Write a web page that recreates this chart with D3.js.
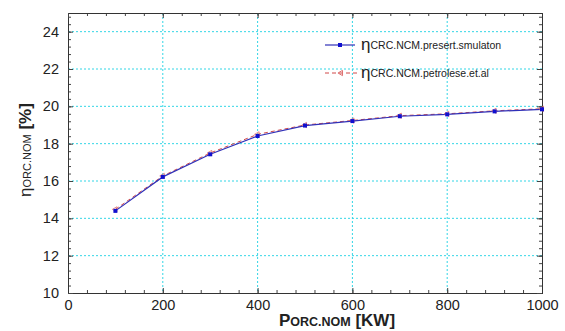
<!DOCTYPE html>
<html><head><meta charset="utf-8">
<script src="https://cdn.jsdelivr.net/npm/d3@7/dist/d3.min.js"></script>
<style>body{margin:0;background:#fff}svg{display:block}text{font-family:"Liberation Sans",Arial,sans-serif}</style>
</head><body><svg id="c" width="565" height="331"></svg>
<script>
const xVals = [100,200,300,400,500,600,700,800,900,1000];
const simValues = [14.4,16.22,17.43,18.41,18.97,19.21,19.47,19.57,19.73,19.84];
const petroleseValues = [14.48,16.27,17.5,18.5,19.0,19.24,19.5,19.6,19.76,19.87];
const xTicks = [0,200,400,600,800,1000];
const yTicks = [10,12,14,16,18,20,22,24];
const seriesNames = ["CRC.NCM.presert.smulaton","CRC.NCM.petrolese.et.al"];

const svg = d3.select("#c");
const L=68, R=542, T=13, B=293;
const x = d3.scaleLinear().domain([0,1000]).range([L,R]);
const y = d3.scaleLinear().domain([10,25]).range([B,T]);

// grid
const grid = svg.append("g").attr("stroke","#33d6e6").attr("stroke-width",1).attr("stroke-dasharray","2,2");
xTicks.filter(d=>d>0&&d<1000).forEach(d=>grid.append("line").attr("x1",x(d)).attr("x2",x(d)).attr("y1",T).attr("y2",B));
yTicks.filter(d=>d>10).forEach(d=>grid.append("line").attr("x1",L).attr("x2",R).attr("y1",y(d)).attr("y2",y(d)));

// axes frame
const minorX = d3.range(0,1001,40), minorY = d3.range(10,25.01,0.4);
function axis(gen, tr){ return svg.append("g").attr("transform",tr).call(gen); }
const ax = [];
ax.push(axis(d3.axisBottom(x).tickValues(minorX).tickSize(-3).tickFormat(""), `translate(0,${B})`));
ax.push(axis(d3.axisTop(x).tickValues(minorX).tickSize(-3).tickFormat(""), `translate(0,${T})`));
ax.push(axis(d3.axisLeft(y).tickValues(minorY).tickSize(-3).tickFormat(""), `translate(${L},0)`));
ax.push(axis(d3.axisRight(y).tickValues(minorY).tickSize(-3).tickFormat(""), `translate(${R},0)`));
ax.push(axis(d3.axisBottom(x).tickValues(xTicks).tickSize(-5).tickPadding(7).tickFormat(d3.format("d")), `translate(0,${B})`));
ax.push(axis(d3.axisLeft(y).tickValues(yTicks).tickSize(-5).tickPadding(9).tickFormat(d3.format("d")), `translate(${L},0)`));
ax.push(axis(d3.axisTop(x).tickValues(xTicks).tickSize(-5).tickFormat(""), `translate(0,${T})`));
ax.push(axis(d3.axisRight(y).tickValues(yTicks).tickSize(-5).tickFormat(""), `translate(${R},0)`));
ax.forEach(g=>{ g.select(".domain").attr("stroke","#333"); g.selectAll(".tick line").attr("stroke","#444");
  g.selectAll("text").attr("font-size",14.5).attr("fill","#222").attr("font-family","Liberation Sans, Arial, sans-serif"); });

// lines
const line = d3.line().x(d=>x(d[0])).y(d=>y(d[1]));
const petro = xVals.map((v,i)=>[v,petroleseValues[i]]);
const sim = xVals.map((v,i)=>[v,simValues[i]]);
svg.append("path").attr("d",line(petro)).attr("fill","none").attr("stroke","#d04848").attr("stroke-width",1).attr("stroke-dasharray","4,3");
svg.append("path").attr("d",line(sim)).attr("fill","none").attr("stroke","#3030b8").attr("stroke-width",1.2);
svg.selectAll(".pm").data(petro).join("path").attr("d",d3.symbol(d3.symbolTriangle,12)())
  .attr("transform",d=>`translate(${x(d[0])},${y(d[1])}) rotate(-90)`).attr("fill","none").attr("stroke","#e07070").attr("stroke-width",0.8);
svg.selectAll(".sm").data(sim).join("rect").attr("x",d=>x(d[0])-2).attr("y",d=>y(d[1])-2).attr("width",4).attr("height",4).attr("fill","#1010d0");

// legend
const lg = svg.append("g");
lg.append("line").attr("x1",325).attr("x2",355).attr("y1",45).attr("y2",45).attr("stroke","#3030b8").attr("stroke-width",1.2);
lg.append("rect").attr("x",338).attr("y",43).attr("width",4).attr("height",4).attr("fill","#1010d0");
lg.append("line").attr("x1",325).attr("x2",357).attr("y1",73).attr("y2",73).attr("stroke","#d04848").attr("stroke-dasharray","4,3");
lg.append("path").attr("d",d3.symbol(d3.symbolTriangle,12)()).attr("transform","translate(341,73) rotate(-90)").attr("fill","none").attr("stroke","#e07070");
[[45,seriesNames[0]],[73,seriesNames[1]]].forEach(([yy,t])=>{
  const tx = lg.append("text").attr("x",361).attr("y",yy+5).attr("fill","#222");
  tx.append("tspan").attr("font-size",17).text("η");
  tx.append("tspan").attr("font-size",10.5).attr("dy",-1).text(t);
});

// axis titles
const xt = svg.append("text").attr("x",337).attr("y",326).attr("text-anchor","middle").attr("fill","#222").attr("font-weight","bold");
xt.append("tspan").attr("font-size",17).text("P");
xt.append("tspan").attr("font-size",12.5).text("ORC.NOM");
xt.append("tspan").attr("font-size",17).text(" [KW]");
const yt = svg.append("text").attr("transform","translate(31,150) rotate(-90)").attr("text-anchor","middle").attr("fill","#222");
yt.append("tspan").attr("font-size",17).text("η");
yt.append("tspan").attr("font-size",11).text("ORC.NOM");
yt.append("tspan").attr("font-size",17).attr("font-weight","bold").text(" [%]");
</script></body></html>
